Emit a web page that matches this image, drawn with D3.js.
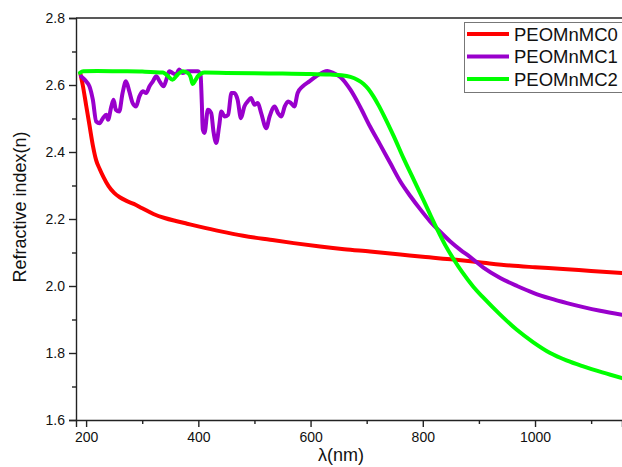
<!DOCTYPE html>
<html><head><meta charset="utf-8">
<script src="https://cdn.jsdelivr.net/npm/d3@7"></script>
<style>
html,body{margin:0;padding:0;background:#fff;overflow:hidden}
text{font-family:"Liberation Sans",Arial,sans-serif;fill:#111}
</style></head>
<body>
<svg id="c" width="622" height="467"></svg>
<script>
// ---- data ----
const seriesNames = ["PEOMnMC0", "PEOMnMC1", "PEOMnMC2"];
const seriesColors = ["#ff0000", "#9900cc", "#00ff00"];

const wl0 = [190,194,200,206,212,218,224,231,240,250,260,272,285,300,320,340,360,380,400,440,480,528,570,617,660,706,760,800,855,900,956,1000,1050,1100,1155];
const n0  = [2.632,2.60,2.54,2.48,2.42,2.375,2.35,2.325,2.298,2.278,2.265,2.254,2.245,2.232,2.215,2.203,2.194,2.186,2.178,2.163,2.150,2.138,2.128,2.118,2.110,2.103,2.094,2.087,2.079,2.071,2.061,2.056,2.051,2.045,2.039];

const wl1 = [191,200,206,212,218,224,230,236,239,245,249,253,259,265,271,277,283,289,295,301,307,313,319,325,331,338,343,348,354,360,366,372,381,390,399,404,406,408,411,417,423,427,432,437,441,447,453,459,464,470,476,482,488,494,500,506,512,521,527,536,542,548,554,560,565,571,577,586,598,610,622,630,640,653,671,688,706,724,742,760,778,796,813,831,849,867,884,908,938,968,998,1027,1057,1086,1116,1155];
const n1  = [2.626,2.611,2.596,2.556,2.491,2.486,2.501,2.511,2.496,2.536,2.556,2.526,2.521,2.576,2.611,2.581,2.546,2.536,2.566,2.581,2.576,2.596,2.611,2.626,2.611,2.596,2.616,2.641,2.636,2.631,2.646,2.636,2.641,2.641,2.641,2.630,2.556,2.467,2.457,2.526,2.516,2.461,2.427,2.476,2.521,2.506,2.511,2.576,2.576,2.556,2.501,2.536,2.551,2.561,2.541,2.546,2.516,2.471,2.506,2.536,2.516,2.506,2.536,2.551,2.546,2.536,2.576,2.596,2.611,2.626,2.638,2.642,2.636,2.624,2.586,2.536,2.476,2.422,2.367,2.312,2.268,2.228,2.193,2.162,2.133,2.108,2.087,2.055,2.024,2.000,1.979,1.963,1.949,1.937,1.926,1.914];

const wl2 = [189,195,220,260,300,337,345,354,363,372,381,386,390,395,399,405,411,450,500,550,600,635,655,671,684,694,703,712,721,730,748,766,784,801,813,826,840,855,870,890,908,937,967,997,1027,1056,1086,1120,1155];
const n2  = [2.636,2.641,2.642,2.641,2.640,2.637,2.628,2.616,2.631,2.641,2.636,2.625,2.603,2.615,2.626,2.634,2.637,2.636,2.635,2.634,2.633,2.631,2.629,2.624,2.615,2.604,2.588,2.566,2.540,2.511,2.448,2.380,2.317,2.257,2.214,2.168,2.122,2.080,2.042,1.998,1.965,1.916,1.870,1.832,1.800,1.778,1.760,1.742,1.725];

const xMajor = [200,400,600,800,1000];
const xMinor = [300,500,700,900,1100];
const yMajor = [1.6,1.8,2.0,2.2,2.4,2.6,2.8];
const yMinor = [1.7,1.9,2.1,2.3,2.5,2.7];
const xTitle = "λ(nm)";
const yTitle = "Refractive index(n)";

// ---- chart ----
const svg = d3.select("#c");
const x = d3.scaleLinear().domain([182,1155]).range([76,622]);
const y = d3.scaleLinear().domain([1.6,2.8]).range([420,18]);

const series = [[wl0,n0],[wl1,n1],[wl2,n2]].map((s,i)=>({
  name: seriesNames[i], color: seriesColors[i],
  pts: s[0].map((w,j)=>[w, s[1][j]])
}));

const line = d3.line().x(d=>x(d[0])).y(d=>y(d[1])).curve(d3.curveMonotoneX);

svg.append("defs").append("clipPath").attr("id","clip")
  .append("rect").attr("x",76).attr("y",18).attr("width",546).attr("height",402);

const g = svg.append("g").attr("clip-path","url(#clip)");
series.forEach(s=>{
  g.append("path").datum(s.pts).attr("d",line)
   .attr("fill","none").attr("stroke",s.color).attr("stroke-width",4)
   .attr("stroke-linejoin","round").attr("stroke-linecap","round");
});

// axes
const axisColor = "#222";
const xAx = svg.append("g").attr("transform","translate(0,420)")
  .call(d3.axisBottom(x).tickValues(xMajor).tickSize(7).tickPadding(5).tickFormat(d3.format("d")));
const xAxMin = svg.append("g").attr("transform","translate(0,420)")
  .call(d3.axisBottom(x).tickValues(xMinor).tickSize(4).tickFormat(""));
const yAx = svg.append("g").attr("transform","translate(76,0)")
  .call(d3.axisLeft(y).tickValues(yMajor).tickSize(7).tickPadding(4).tickFormat(d3.format(".1f")));
const yAxMin = svg.append("g").attr("transform","translate(76,0)")
  .call(d3.axisLeft(y).tickValues(yMinor).tickSize(4).tickFormat(""));
[xAx,xAxMin,yAx,yAxMin].forEach(a=>{
  a.select(".domain").attr("stroke",axisColor).attr("stroke-width",1.4);
  a.selectAll(".tick line").attr("stroke",axisColor).attr("stroke-width",1.4);
  a.selectAll(".tick text").attr("font-size",14).attr("fill","#111")
   .attr("font-family","Liberation Sans, Arial, sans-serif");
});
xAxMin.select(".domain").remove(); yAxMin.select(".domain").remove();
// top frame line
svg.append("line").attr("x1",76).attr("x2",622).attr("y1",18).attr("y2",18)
  .attr("stroke",axisColor).attr("stroke-width",1.4);

svg.append("text").attr("x",341).attr("y",461).attr("text-anchor","middle")
  .attr("font-size",18).text(xTitle);
svg.append("text").attr("transform","translate(26,207) rotate(-90)")
  .attr("text-anchor","middle").attr("font-size",18).text(yTitle);

// legend
const lg = svg.append("g");
lg.append("rect").attr("x",464.5).attr("y",22.5).attr("width",170).attr("height",70)
  .attr("fill","#fff").attr("stroke","#777").attr("stroke-width",1);
series.forEach((s,i)=>{
  const cy = 34 + i*22.5;
  lg.append("line").attr("x1",467).attr("x2",509).attr("y1",cy).attr("y2",cy)
    .attr("stroke",s.color).attr("stroke-width",4);
  lg.append("text").attr("x",514).attr("y",cy+6.5).attr("font-size",18.5).text(s.name);
});
</script>
</body></html>
